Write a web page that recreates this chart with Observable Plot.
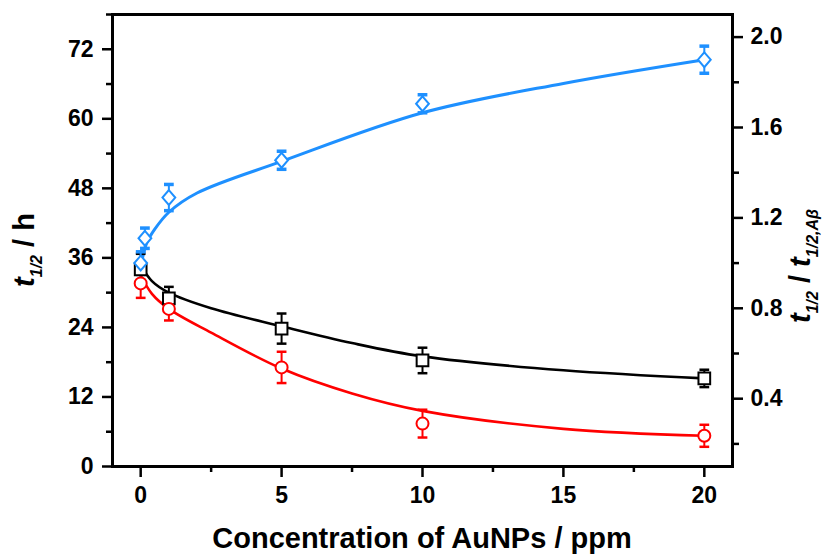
<!DOCTYPE html>
<html>
<head>
<meta charset="utf-8">
<script src="https://cdn.jsdelivr.net/npm/d3@7"></script>
<script src="https://cdn.jsdelivr.net/npm/@observablehq/plot@0.6"></script>
<style>
  html, body { margin: 0; padding: 0; background: #fff; }
  #chart { width: 823px; height: 556px; }
</style>
</head>
<body>
<div id="chart"></div>
<script>
// ---- tick values ----
const xTicks = [0, 5, 10, 15, 20];
const xMinor = [2.5, 7.5, 12.5, 17.5];
const leftTicks = [0, 12, 24, 36, 48, 60, 72];
const leftMinor = [6, 18, 30, 42, 54, 66, 78];
const rightTicks = [0.4, 0.8, 1.2, 1.6, 2.0];
const rightMinor = [0.2, 0.6, 1.0, 1.4, 1.8];

// ---- measured points (left axis, t1/2 in h) ----
const conc = [0, 1, 5, 10, 20];
const blackT = [34.0, 29.0, 23.8, 18.3, 15.2];
const blackErr = [2.7, 2.0, 2.6, 2.2, 1.5];
const redT = [31.6, 27.2, 17.1, 7.4, 5.3];
const redErr = [2.5, 2.0, 2.7, 2.4, 1.9];

// ---- measured points (right axis, ratio) ----
const blueConc = [0, 0.15, 1, 5, 10, 20];
const blueRatio = [1.00, 1.11, 1.29, 1.455, 1.705, 1.90];
const blueErr = [0.05, 0.045, 0.058, 0.04, 0.04, 0.06];

// ---- fitted curves ----
const blackCurveX = [0, 0.4, 1, 2.5, 5, 7.5, 10, 15, 20];
const blackCurveY = [34.8, 32.0, 30.0, 27.3, 24.2, 21.3, 19.0, 16.6, 15.2];
const redCurveX = [0, 0.4, 1, 2.5, 5, 7.5, 10, 15, 20];
const redCurveY = [33.0, 29.8, 27.2, 23.1, 16.9, 12.6, 9.6, 6.5, 5.3];
const blueCurveX = [0, 0.2, 0.5, 1, 2, 5, 10, 15, 20];
const blueCurveY = [0.98, 1.085, 1.15, 1.225, 1.31, 1.45, 1.665, 1.795, 1.90];

// right axis (0.1..2.1) mapped onto the left scale (0..78)
const toLeft = r => (r - 0.1) * 39;
const fromLeft = v => v / 39 + 0.1;

const blackPts = conc.map((x, i) => ({x, y: blackT[i], e: blackErr[i]}));
const redPts = conc.map((x, i) => ({x, y: redT[i], e: redErr[i]}));
const bluePts = blueConc.map((x, i) => ({x, y: toLeft(blueRatio[i]), lo: toLeft(blueRatio[i] - blueErr[i]), hi: toLeft(blueRatio[i] + blueErr[i])}));
const blackCurve = blackCurveX.map((x, i) => ({x, y: blackCurveY[i]}));
const redCurve = redCurveX.map((x, i) => ({x, y: redCurveY[i]}));
const blueCurve = blueCurveX.map((x, i) => ({x, y: toLeft(blueCurveY[i])}));

const BLUE = "#1E90FF", RED = "#FF0000", BLACK = "#000000";
const FONT = "'Liberation Sans', Arial, sans-serif";

const cap = {draw(ctx, size) { const w = Math.sqrt(size) / 2; ctx.moveTo(-w, 0); ctx.lineTo(w, 0); }};
const rhomb = {draw(ctx, size) { const s = Math.sqrt(size) / 2; ctx.moveTo(0, -s * 1.1); ctx.lineTo(s * 0.95, 0); ctx.lineTo(0, s * 1.1); ctx.lineTo(-s * 0.95, 0); ctx.closePath(); }};

function errMarks(data, color, lo, hi, capW) {
  return [
    Plot.ruleX(data, {x: "x", y1: lo, y2: hi, stroke: color, strokeWidth: 2}),
    Plot.dot(data, {x: "x", y: lo, symbol: cap, r: 5.5, stroke: color, strokeWidth: capW}),
    Plot.dot(data, {x: "x", y: hi, symbol: cap, r: 5.5, stroke: color, strokeWidth: capW})
  ];
}

const tickText = {fontSize: 23, fontWeight: "bold", fill: BLACK};

const chart = Plot.plot({
  width: 823,
  height: 556,
  marginLeft: 112,
  marginRight: 91,
  marginTop: 14,
  marginBottom: 90,
  style: {fontFamily: FONT, background: "#fff", color: BLACK},
  x: {domain: [-1, 21], axis: null},
  y: {domain: [0, 78], axis: null},
  marks: [
    // curves
    Plot.line(blueCurve, {x: "x", y: "y", stroke: BLUE, strokeWidth: 3, curve: "catmull-rom"}),
    Plot.line(blackCurve, {x: "x", y: "y", stroke: BLACK, strokeWidth: 2.6, curve: "catmull-rom"}),
    Plot.line(redCurve, {x: "x", y: "y", stroke: RED, strokeWidth: 2.6, curve: "catmull-rom"}),
    // error bars
    ...errMarks(blackPts, BLACK, d => d.y - d.e, d => d.y + d.e, 2.5),
    ...errMarks(redPts, RED, d => d.y - d.e, d => d.y + d.e, 2.5),
    ...errMarks(bluePts, BLUE, "lo", "hi", 3.5),
    // markers
    Plot.dot(blackPts, {x: "x", y: "y", symbol: "square", r: 6.6, fill: "#fff", stroke: BLACK, strokeWidth: 2}),
    Plot.dot(redPts, {x: "x", y: "y", symbol: "circle", r: 6, fill: "#fff", stroke: RED, strokeWidth: 2}),
    Plot.dot(bluePts, {x: "x", y: "y", symbol: rhomb, r: 7.6, fill: "#fff", stroke: BLUE, strokeWidth: 2}),
    // axes
    Plot.axisY(leftTicks, {anchor: "left", tickSize: 10, tickPadding: 9, strokeWidth: 2.5, label: null, ...tickText}),
    Plot.axisY(leftMinor, {anchor: "left", tickSize: 6, strokeWidth: 2.5, label: null, tickFormat: () => ""}),
    Plot.axisY(rightTicks.map(toLeft), {anchor: "right", tickSize: 10, tickPadding: 8, strokeWidth: 2.5, label: null, tickFormat: v => fromLeft(v).toFixed(1), ...tickText}),
    Plot.axisY(rightMinor.map(toLeft), {anchor: "right", tickSize: 6, strokeWidth: 2.5, label: null, tickFormat: () => ""}),
    Plot.axisX(xTicks, {anchor: "bottom", tickSize: 11, tickPadding: 9, strokeWidth: 2.5, label: null, ...tickText}),
    Plot.axisX(xMinor, {anchor: "bottom", tickSize: 6, strokeWidth: 2.5, label: null, tickFormat: () => ""}),
    Plot.frame({stroke: BLACK, strokeWidth: 3})
  ]
});

document.getElementById("chart").appendChild(chart);

// axis titles (rich text with italic subscripts)
const svg = d3.select(chart);
const titleSize = 29, subSize = 16, subShift = 8;

svg.append("text")
  .attr("x", 422).attr("y", 548)
  .attr("text-anchor", "middle")
  .attr("font-family", FONT).attr("font-weight", "bold").attr("font-size", titleSize)
  .attr("fill", BLACK)
  .text("Concentration of AuNPs / ppm");

function ratioLabel(x, y, parts) {
  const t = svg.append("text")
    .attr("transform", `translate(${x},${y}) rotate(-90)`)
    .attr("text-anchor", "middle")
    .attr("font-family", FONT).attr("font-weight", "bold").attr("font-size", titleSize)
    .attr("fill", BLACK);
  let shifted = 0;
  for (const p of parts) {
    const s = t.append("tspan").text(p.text);
    if (p.italic) s.attr("font-style", "italic");
    if (p.sub) { s.attr("font-size", subSize).attr("dy", subShift - shifted); shifted = subShift; }
    else { s.attr("dy", -shifted); shifted = 0; }
  }
}

ratioLabel(34, 250, [
  {text: "t", italic: true},
  {text: "1/2", italic: true, sub: true},
  {text: " / h"}
]);

ratioLabel(810, 266, [
  {text: "t", italic: true},
  {text: "1/2", italic: true, sub: true},
  {text: " / "},
  {text: "t", italic: true},
  {text: "1/2,A\u03B2", italic: true, sub: true}
]);
</script>
</body>
</html>
